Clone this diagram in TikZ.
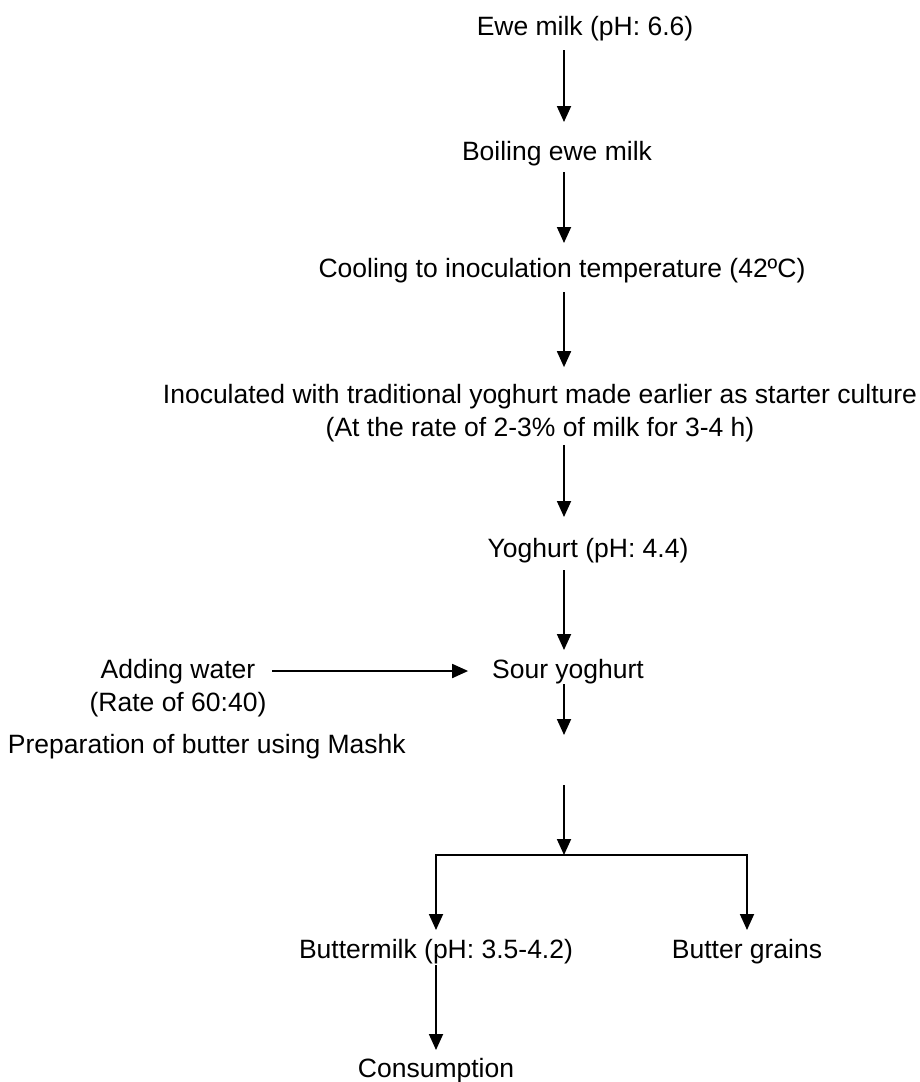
\documentclass[tikz,border=0pt]{standalone}
\usepackage{fontspec}
\setmainfont{Liberation Sans}
\usetikzlibrary{arrows.meta}

\begin{document}
\begin{tikzpicture}[x=1pt,y=-1pt,
  stage/.style={font=\fontsize{26.5}{33}\selectfont, inner sep=0pt, outer sep=0pt,
    text height=20pt, text depth=6pt, anchor=base},
  stagetwo/.style={font=\fontsize{26.5}{33}\selectfont, inner sep=0pt, outer sep=0pt,
    align=center},
  flow/.style={line width=1.8pt, -{Triangle[width=14pt,length=16pt]},
    shorten <=7pt, shorten >=14pt}]
\useasboundingbox (0,0) rectangle (919,1082);
\coordinate (spine) at (564,0);
% process steps
\node[stage] (ewe) at (585,35) {Ewe milk (pH: 6.6)};
\node[stage] (boil) at (557,160) {Boiling ewe milk};
\node[stage] (cool) at (562,277) {Cooling to inoculation temperature (42ºC)};
\node[stagetwo] (inoc) at (540,413) {Inoculated with traditional yoghurt made earlier as starter culture\\(At the rate of 2-3\% of milk for 3-4 h)};
\node[stage] (yog) at (588,557) {Yoghurt (pH: 4.4)};
\node[stage] (sour) at (568,678) {Sour yoghurt};
\node[stagetwo] (water) at (178,688) {Adding water\\(Rate of 60:40)};
\node[stage, anchor=base west] (prep) at (8,753) {Preparation of butter using Mashk};
\node[stage] (butmilk) at (436,958) {Buttermilk (pH: 3.5-4.2)};
\node[stage] (grains) at (747,958) {Butter grains};
\node[stage] (cons) at (436,1077) {Consumption};
\coordinate (mashk) at (564,735);
\coordinate (churn) at (564,785);
\coordinate (fork) at (564,855);
% arrows
\draw[flow, shorten <=9pt, shorten >=18pt] (ewe.south -| spine) -- (boil.north -| spine);
\draw[flow, shorten <=6pt] (boil.south -| spine) -- (cool.north -| spine);
\draw[flow, shorten <=9pt, shorten >=17pt] (cool.south -| spine) -- (inoc.north -| spine);
\draw[flow, shorten <=3pt, shorten >=20pt] (inoc.south -| spine) -- (yog.north -| spine);
\draw[flow, shorten >=8pt] (yog.south -| spine) -- (sour.north -| spine);
\draw[flow, shorten <=0pt, shorten >=0pt] (sour.south -| spine) -- (mashk);
\draw[flow, shorten <=0pt, shorten >=0pt] (churn) -- (fork);
\draw[flow, shorten <=6pt, shorten >=24pt] (water.east |- sour.west) -- (sour.west);
\draw[flow, shorten <=0pt, shorten >=8pt] (fork) -| (butmilk.north);
\draw[flow, shorten <=0pt, shorten >=8pt] (fork) -| (grains.north);
\draw[flow, shorten <=1pt, shorten >=7pt] (butmilk.south) -- (cons.north);
\end{tikzpicture}
\end{document}
